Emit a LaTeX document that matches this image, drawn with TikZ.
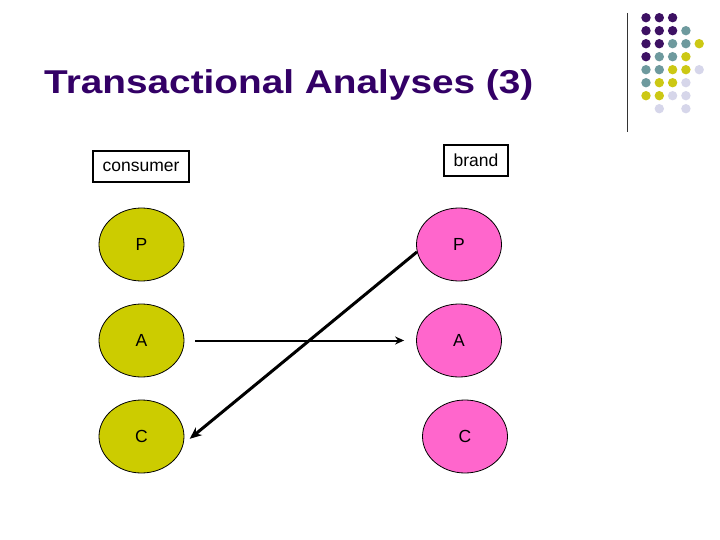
\documentclass[tikz,border=0pt]{standalone}
\usepackage{fontspec}
\setmainfont{Liberation Sans}
\usetikzlibrary{shapes.geometric,arrows.meta}

\definecolor{titlepurple}{RGB}{51,0,102}
\definecolor{egoyellow}{RGB}{204,204,0}
\definecolor{egopink}{RGB}{255,102,204}
\definecolor{dotP}{RGB}{61,17,99}
\definecolor{dotT}{RGB}{110,154,158}
\definecolor{dotY}{RGB}{204,200,20}
\definecolor{dotL}{RGB}{214,214,234}

\begin{document}
\begin{tikzpicture}[x=1pt,y=-1pt,
  ego/.style={ellipse,draw=black,line width=0.8pt,minimum width=85pt,minimum height=73pt,inner sep=0pt,font=\fontsize{17.5}{20}\selectfont},
  partybox/.style={draw=black,line width=1.3pt,minimum height=31pt,inner sep=0pt,font=\fontsize{17.5}{20}\selectfont}]
\useasboundingbox (0,0) rectangle (720,540);

% A. Title and the corner ornament
\node[anchor=base west,inner sep=0pt,text=titlepurple,font=\fontsize{33}{38}\bfseries] (title) at (44,93.7)
  {\scalebox{1.175}[1]{Transactional Analyses (3)}};
\draw[line width=0.9pt,black!80] (627,13) -- (627,132);
\foreach \c/\r/\col in {1/1/dotP,2/1/dotP,3/1/dotP,
                        1/2/dotP,2/2/dotP,3/2/dotP,4/2/dotT,
                        1/3/dotP,2/3/dotP,3/3/dotT,4/3/dotT,5/3/dotY,
                        1/4/dotP,2/4/dotT,3/4/dotT,4/4/dotY,
                        1/5/dotT,2/5/dotT,3/5/dotY,4/5/dotY,5/5/dotL,
                        1/6/dotT,2/6/dotY,3/6/dotY,4/6/dotL,
                        1/7/dotY,2/7/dotY,3/7/dotL,4/7/dotL,
                        2/8/dotL,4/8/dotL}
  \fill[\col] ({646+13.3*(\c-1)},{17.7+13*(\r-1)}) circle (4.7);

% B. The two parties
\node[partybox,minimum width=96pt] (consumer) at (141,166.5) {consumer};
\node[partybox,minimum width=64pt] (brand) at (476,160.5) {brand};

% C. Ego states
\node[ego,fill=egoyellow] (cP) at (141.5,244.5) {P};
\node[ego,fill=egoyellow] (cA) at (141.5,340.5) {A};
\node[ego,fill=egoyellow] (cC) at (141.5,436.5) {C};
\node[ego,fill=egopink] (bP) at (459,244.5) {P};
\node[ego,fill=egopink] (bA) at (459,340.5) {A};
\node[ego,fill=egopink] (bC) at (465,436.5) {C};

% D. Transactions
\draw[-{Stealth[length=9pt,width=8pt]},line width=2pt,shorten <=11pt,shorten >=12pt] (cA.east) -- (bA.west);
\draw[-{Stealth[length=12pt,width=10pt]},line width=3pt,shorten >=8pt] (bP.190) -- (cC.350);

\end{tikzpicture}
\end{document}
